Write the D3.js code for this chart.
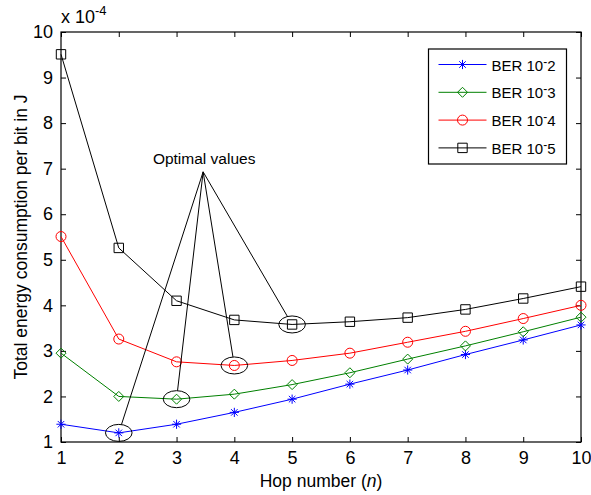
<!DOCTYPE html>
<html>
<head>
<meta charset="utf-8">
<script src="https://cdn.jsdelivr.net/npm/d3@7"></script>
<style>
  body { margin: 0; background: #fff; }
  svg { display: block; font-family: Arial, "Liberation Sans", sans-serif; }
</style>
</head>
<body>
<div id="chart"></div>
<script>
// hop numbers (x axis)
const hops = [1, 2, 3, 4, 5, 6, 7, 8, 9, 10];

// energy per bit, in units of 1e-4 J
const ber2 = [1.39, 1.20, 1.39, 1.65, 1.94, 2.27, 2.58, 2.92, 3.24, 3.57];
const ber3 = [2.95, 2.00, 1.94, 2.05, 2.26, 2.52, 2.82, 3.11, 3.42, 3.74];
const ber4 = [5.51, 3.26, 2.76, 2.68, 2.79, 2.95, 3.19, 3.43, 3.71, 4.00];
const ber5 = [9.51, 5.26, 4.10, 3.68, 3.58, 3.64, 3.73, 3.91, 4.15, 4.41];

const berExponents = [2, 3, 4, 5];
const yTicks = [1, 2, 3, 4, 5, 6, 7, 8, 9, 10];

// optimal hop number for each curve (circled)
const optimalHops = [2, 3, 4, 5];
// where the annotation lines meet
const annotationPoint = { n: 3.46, v: 6.93 };
const annotationText = "Optimal values";

const W = 591, H = 495;
const margin = { top: 32, right: 10, bottom: 53, left: 61 };

const svg = d3.select("#chart").append("svg")
    .attr("width", W)
    .attr("height", H);

// scales
const x = d3.scaleLinear().domain([1, 10]).range([margin.left, W - margin.right]);
const y = d3.scaleLinear().domain([1, 10]).range([H - margin.bottom, margin.top]);

// marker paths
function asteriskPath(r) {
    const d = r * 0.707;
    return `M0,${-r}L0,${r}M${-r},0L${r},0M${-d},${-d}L${d},${d}M${-d},${d}L${d},${-d}`;
}
function diamondPath(r) { return `M0,${-r}L${r},0L0,${r}L${-r},0Z`; }
function circlePath(r) { return `M${r},0A${r},${r} 0 1,1 ${-r},0A${r},${r} 0 1,1 ${r},0Z`; }
function squarePath(r) { return `M${-r},${-r}H${r}V${r}H${-r}Z`; }

const series = [
    { values: ber2, color: "#0000ff", marker: asteriskPath(4.6) },
    { values: ber3, color: "#008000", marker: diamondPath(5) },
    { values: ber4, color: "#ff0000", marker: circlePath(5) },
    { values: ber5, color: "#000000", marker: squarePath(4.7) }
];
series.forEach((s, i) => s.exp = berExponents[i]);

// axes (MATLAB style box, inward ticks)
svg.append("g")
    .attr("transform", `translate(0,${y(1)})`)
    .call(d3.axisBottom(x).tickValues(hops).tickSize(-5).tickPadding(9).tickFormat(d3.format("d")));
svg.append("g")
    .attr("transform", `translate(${x(1)},0)`)
    .call(d3.axisLeft(y).tickValues(yTicks).tickSize(-5).tickPadding(8).tickFormat(d3.format("d")));
svg.append("g")
    .attr("transform", `translate(0,${y(10)})`)
    .call(d3.axisTop(x).tickValues(hops).tickSize(-5).tickFormat(""));
svg.append("g")
    .attr("transform", `translate(${x(10)},0)`)
    .call(d3.axisRight(y).tickValues(yTicks).tickSize(-5).tickFormat(""));

svg.selectAll(".domain").remove();
svg.selectAll(".tick line").attr("stroke", "#000");
svg.selectAll(".tick text")
    .attr("fill", "#000")
    .style("font-size", "18px")
    .style("font-family", "Arial, 'Liberation Sans', sans-serif");

svg.append("rect")
    .attr("x", x(1))
    .attr("y", y(10))
    .attr("width", x(10) - x(1))
    .attr("height", y(1) - y(10))
    .attr("fill", "none")
    .attr("stroke", "#000")
    .attr("stroke-width", 1.2);

// exponent label
const expLabel = svg.append("text")
    .attr("x", x(1))
    .attr("y", 23)
    .style("font-size", "18px");
expLabel.append("tspan").text("x 10");
expLabel.append("tspan").attr("dy", -8).style("font-size", "13px").text("-4");

// axis labels
const xl = svg.append("text")
    .attr("x", (x(1) + x(10)) / 2)
    .attr("y", 487)
    .attr("text-anchor", "middle")
    .style("font-size", "17.5px");
xl.append("tspan").text("Hop number (");
xl.append("tspan").style("font-style", "italic").text("n");
xl.append("tspan").text(")");

svg.append("text")
    .attr("transform", `translate(27,${(y(1) + y(10)) / 2}) rotate(-90)`)
    .attr("text-anchor", "middle")
    .style("font-size", "17.5px")
    .text("Total energy consumption per bit in J");

// lines
const line = d3.line()
    .x((d, i) => x(hops[i]))
    .y(d => y(d));

series.forEach(s => {
    svg.append("path")
        .datum(s.values)
        .attr("d", line)
        .attr("fill", "none")
        .attr("stroke", s.color)
        .attr("stroke-width", 1);

    svg.selectAll(null)
        .data(s.values)
        .enter()
        .append("path")
        .attr("transform", (d, i) => `translate(${x(hops[i])},${y(d)})`)
        .attr("d", s.marker)
        .attr("fill", "none")
        .attr("stroke", s.color)
        .attr("stroke-width", 1);
});

// optimal value ellipses + annotation lines
const rx = 13.3, ry = 8.5;
const ax = x(annotationPoint.n), ay = y(annotationPoint.v);

series.forEach((s, i) => {
    const n = optimalHops[i];
    const cx = x(n), cy = y(s.values[hops.indexOf(n)]);
    svg.append("ellipse")
        .attr("cx", cx)
        .attr("cy", cy)
        .attr("rx", rx)
        .attr("ry", ry)
        .attr("fill", "none")
        .attr("stroke", "#000")
        .attr("stroke-width", 1);

    // where the line from the apex hits the ellipse
    const dx = ax - cx, dy = ay - cy;
    const t = 1 / Math.sqrt((dx / rx) ** 2 + (dy / ry) ** 2);
    svg.append("line")
        .attr("x1", ax)
        .attr("y1", ay)
        .attr("x2", cx + dx * t)
        .attr("y2", cy + dy * t)
        .attr("stroke", "#000")
        .attr("stroke-width", 1);
});

svg.append("text")
    .attr("x", ax + 1)
    .attr("y", ay - 8)
    .attr("text-anchor", "middle")
    .style("font-size", "15.5px")
    .text(annotationText);

// legend
const legend = svg.append("g").attr("transform", "translate(428.5,49)");
legend.append("rect")
    .attr("width", 138)
    .attr("height", 115)
    .attr("fill", "#fff")
    .attr("stroke", "#000")
    .attr("stroke-width", 1.2);

const rows = legend.selectAll(".row")
    .data(series)
    .enter()
    .append("g")
    .attr("class", "row")
    .attr("transform", (d, i) => `translate(0,${15.5 + i * 27.8})`);

rows.append("line")
    .attr("x1", 10)
    .attr("x2", 58)
    .attr("stroke", d => d.color)
    .attr("stroke-width", 1);

rows.append("path")
    .attr("transform", "translate(34,0)")
    .attr("d", d => d.marker)
    .attr("fill", "none")
    .attr("stroke", d => d.color);

const lt = rows.append("text")
    .attr("x", 63)
    .attr("y", 6)
    .style("font-size", "15px");
lt.append("tspan").text("BER 10");
lt.append("tspan").attr("dy", -5).style("font-size", "12px").text("-");
lt.append("tspan").attr("dy", 5).text(d => d.exp);
</script>
</body>
</html>
